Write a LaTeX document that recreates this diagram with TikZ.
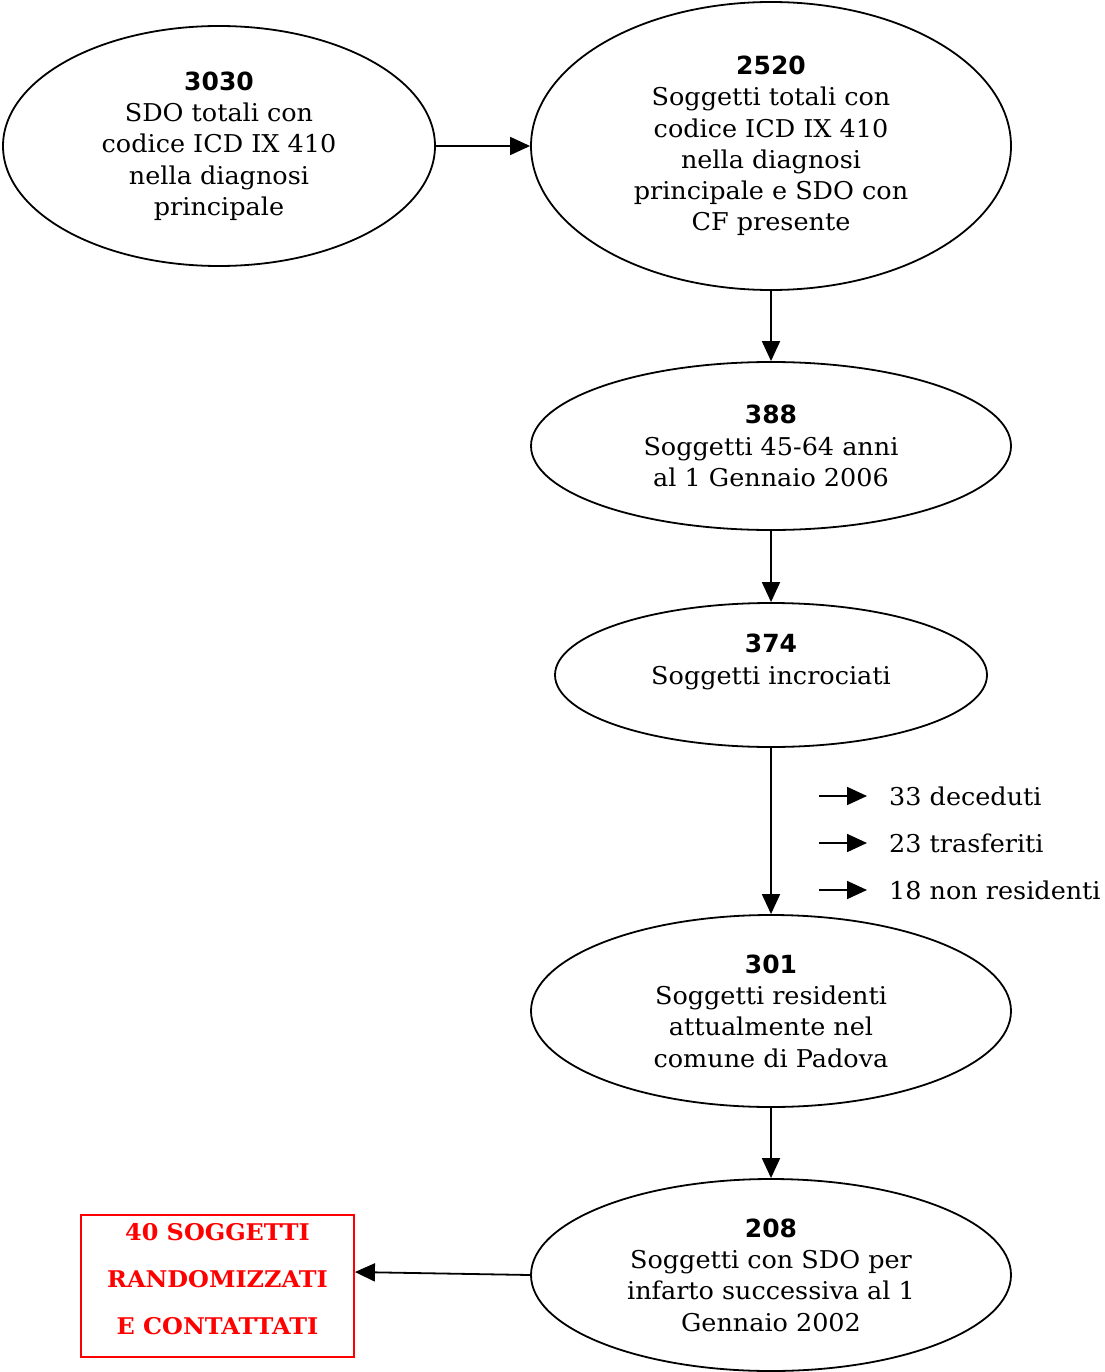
\documentclass[tikz,border=0pt]{standalone}
\usepackage{fontspec}
\setmainfont{DejaVu Serif}[FakeStretch=1.04]
\newfontfamily\numfont{DejaVu Sans}
\usepackage{xcolor}
\usetikzlibrary{arrows.meta,shapes.geometric,positioning}

\begin{document}
\begin{tikzpicture}[x=1pt,y=-1pt,
  flow/.style={draw,ellipse,line width=1.8pt,inner sep=0pt,align=center,
    font=\fontsize{24.5}{31.3}\selectfont},
  arr/.style={-{Triangle[length=20pt,width=18pt]},line width=1.8pt},
  outcome/.style={anchor=west,inner ysep=0pt,inner xsep=22pt,
    font=\fontsize{24.5}{31.3}\selectfont}]
\useasboundingbox (0,0) rectangle (1104,1372);

\node[flow,minimum width=432,minimum height=240] (n3030) at (219,146)
  {{\numfont\bfseries\fontsize{25}{31.3}\selectfont 3030}\\SDO totali con\\codice ICD IX 410\\nella diagnosi\\principale};
\node[flow,minimum width=480,minimum height=288] (n2520) at (771,146)
  {{\numfont\bfseries\fontsize{25}{31.3}\selectfont 2520}\\Soggetti totali con\\codice ICD IX 410\\nella diagnosi\\principale e SDO con\\CF presente};
\node[flow,minimum width=480,minimum height=168] (n388) at (771,446)
  {{\numfont\bfseries\fontsize{25}{31.3}\selectfont 388}\\Soggetti 45-64 anni\\al 1 Gennaio 2006};
\node[flow,minimum width=432,minimum height=144] (n374) at (771,675)
  {{\numfont\bfseries\fontsize{25}{31.3}\selectfont 374}\\Soggetti incrociati\\\mbox{}};
\node[flow,minimum width=480,minimum height=192] (n301) at (771,1011)
  {{\numfont\bfseries\fontsize{25}{31.3}\selectfont 301}\\Soggetti residenti\\attualmente nel\\comune di Padova};
\node[flow,minimum width=480,minimum height=192] (n208) at (771,1275)
  {{\numfont\bfseries\fontsize{25}{31.3}\selectfont 208}\\Soggetti con SDO per\\infarto successiva al 1\\Gennaio 2002};

\node[draw=red,line width=1.8pt,minimum width=273,minimum height=142,inner sep=0pt,
  text=red,align=center,font=\bfseries\fontsize{23}{47}\selectfont] (n40) at (217.5,1286)
  {\raisebox{8pt}[\height][\depth]{\begin{tabular}{@{}c@{}}40 SOGGETTI\\RANDOMIZZATI\\E CONTATTATI\end{tabular}}};

% esclusi
\coordinate (s1) at (819,796);
\coordinate (s2) at (819,843);
\coordinate (s3) at (819,890);
\node[outcome] (dec) at (867,796) {33 deceduti};
\node[outcome] (tra) at (867,843) {23 trasferiti};
\node[outcome] (nres) at (867,890) {18 non residenti};

\draw[arr] (n3030) -- (n2520);
\draw[arr] (n2520) -- (n388);
\draw[arr] (n388) -- (n374);
\draw[arr] (n374) -- (n301);
\draw[arr] (n301) -- (n208);
\draw[arr] (n208.west) -- ([yshift=14pt]n40.east);
\draw[arr] (s1) -- (dec.west);
\draw[arr] (s2) -- (tra.west);
\draw[arr] (s3) -- (nres.west);

\end{tikzpicture}
\end{document}
